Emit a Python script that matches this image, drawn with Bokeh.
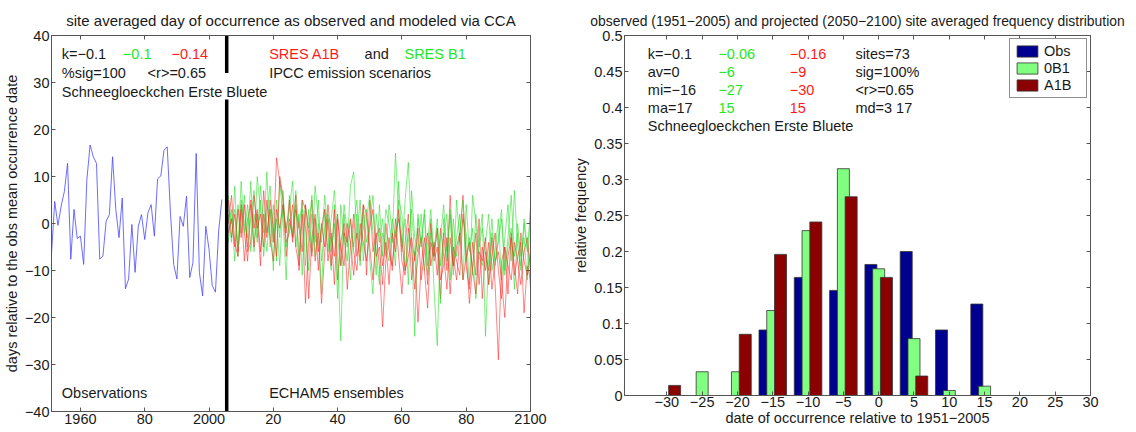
from bokeh.plotting import figure
from bokeh.layouts import row
from bokeh.models import Range1d, FixedTicker, LinearAxis, Label, ColumnDataSource
from bokeh.transform import dodge
from bokeh.embed import file_html
from bokeh.resources import INLINE

# ---------------- data: left panel ----------------
obs_start = 1951
obs_vals = [-6.5, 4.7, -0.4, 3.7, 6.8, 12.8, -7.6, 3.0, -3.2, -2.7,
            -8.7, 9.3, 16.7, 14.2, 12.8, -7.6, -6.9, 0.5, 1.9, 14.2,
            3.0, -3.0, 5.4, -13.9, -11.8, -0.2, -10.4, -0.6, 1.9, -3.4,
            2.3, 4.0, -2.7, 9.5, 10.1, 15.6, 16.3, 2.3, -8.7, -11.8,
            1.5, -0.6, 5.8, -11.5, -8.3, 14.9, -10.4, -15.4, -0.6, -5.5,
            -13.2, -14.6, -1.6, 5.1]

model_start = 2006
a1b_run1 = [5, -3, 2, -6, 3, -8, 1, 4, -5, 2,
            -9, 7, -2, 3, -4, 14, 9, 5, -7, 1,
            -3, 6, -10, 2, -17, -4, 5, -8, -2, -17,
            -6, 1, -9, 3, -12, -4, 0, -14, -5, 2,
            -7, -3, 4, -11, 5, -6, -2, -9, -22, -8,
            -3, -10, 1, -7, -15, -4, 2, -12, -6, -21,
            -9, -3, -13, 0, -8, -5, -16, -2, -10, 6,
            -7, -12, -3, 6, -9, -14, -4, -11, 1, -16,
            -6, -10, -3, -13, -29, -8, -5, -15, -2, -11,
            -7, -4, -19, -9, -12]
a1b_run2 = [0, 6, -4, -7, 4, -2, -8, 5, -1, 3,
            -6, 2, -3, 5, -1, -7, 10, 6, -4, -2,
            4, -5, -9, 5, 3, -16, -3, 2, -6, -1,
            3, -8, -2, -13, 1, -5, -9, 0, -4, -11,
            -2, -8, 4, 2, -5, -12, -3, -1, -9, -4,
            -13, -2, -6, 3, -8, -11, -1, -5, -14, -7,
            -3, -10, -18, -4, -7, -1, -12, -9, -3, -15,
            -5, -8, -11, 2, -6, -17, -9, -2, -13, -5,
            -10, -4, -14, -8, -6, -12, -20, -7, -3, -9,
            -15, -2, -8, -11, -6]
a1b_run3 = [-2, 1, -5, 3, -3, 4, -6, -4, 6, -1,
            2, -5, 5, -3, -8, 3, -1, 4, -2, 5,
            -4, 3, -1, -6, 4, -2, -7, 1, -10, 0,
            -5, 4, -3, -7, 2, -9, -2, -4, 1, -6,
            -10, 0, -4, -8, -1, 3, -7, -5, -13, 0,
            -6, -9, -2, 1, -4, -10, -7, -3, -8, -1,
            -12, -6, -2, -9, -4, -11, -1, -7, -14, -3,
            -9, -5, -2, -12, -7, -4, -10, -15, -6, -8,
            -3, -13, -7, -2, -10, -16, -5, -9, -12, -4,
            -8, -13, -6, -3, -10]
b1_run1 = [2, -4, 8, -7, 5, 0, -3, 9, -6, 10,
           3, -2, 11, -5, 4, -8, 9, 1, -12, 6,
           -3, 7, -1, 5, -9, 3, -6, 8, 1, -4,
           6, -2, -10, 4, -7, -25, 2, -5, 8, 11,
           -3, 5, -8, 1, 6, -2, -11, 4, -7, 3,
           0, -4, 15, 2, -6, 5, 13, -3, -24, 2,
           -5, 3, -9, 1, -14, -26, -3, 4, -8, 2,
           -11, 5, -4, 1, -2, -13, 6, 0, -7, -9,
           -4, 2, -10, -6, 1, -12, -3, 4, -8, 7,
           -5, -10, 0, -6, 3]
b1_run2 = [-4, 3, -8, 4, -2, 6, -5, 1, 7, -3,
           5, -7, 2, 8, -4, 1, -9, 4, -1, 3,
           9, -5, 2, -11, 4, -1, 6, -7, 0, -15,
           3, -6, 1, 7, -3, -9, 4, -2, -12, 0,
           5, -6, -1, 3, -8, -15, 2, -4, 1, -7,
           4, -2, -9, 9, -5, 1, -13, 7, -3, -6,
           2, -10, -4, 3, -7, -1, -17, 1, -6, 3,
           -9, -3, 2, -12, 4, -6, -1, -16, -4, 2,
           -24, -7, 1, -9, -3, 3, -11, -5, -1, -14,
           0, -7, -3, -12, 4]
b1_run3 = [6, 0, 3, -5, 9, -2, 4, -6, 2, -4,
           8, 0, -6, 3, -10, 5, -3, 7, -5, 0,
           -2, 4, -7, 3, -1, -10, 2, -4, 5, -8,
           -1, 2, -6, 0, -16, 4, -3, -8, 1, -5,
           2, -9, 3, -4, 0, 6, -6, -13, -2, -5,
           -8, 1, -3, 5, 2, -10, -4, 3, -7, 1,
           -4, 2, -11, -2, -6, 1, -9, -3, 2, -12,
           1, -7, -2, 5, -8, -3, -11, 2, -5, -1,
           -6, -13, -2, -8, -4, 1, -10, -3, 6, -7,
           -2, -9, 1, -5, -14]

left_xticks = [1960, 1980, 2000, 2020, 2040, 2060, 2080, 2100]
left_xlabels = ["1960", "80", "2000", "20", "40", "60", "80", "2100"]
left_yticks = [-40, -30, -20, -10, 0, 10, 20, 30, 40]

# ---------------- data: right panel ----------------
bins = [-30, -25, -20, -15, -10, -5, 0, 5, 10, 15, 20, 25, 30]
obs_freq = [0, 0, 0, 0.091, 0.164, 0.146, 0.182, 0.200, 0.091, 0.127, 0, 0, 0]
b1_freq = [0, 0.033, 0.033, 0.118, 0.229, 0.315, 0.176, 0.079, 0.007, 0.013, 0, 0, 0]
a1b_freq = [0.014, 0, 0.085, 0.196, 0.241, 0.276, 0.164, 0.027, 0, 0, 0, 0, 0]
right_yticks = [0, 0.05, 0.1, 0.15, 0.2, 0.25, 0.3, 0.35, 0.4, 0.45, 0.5]

MINUS = "\u2212"
FONT = "Liberation Sans"
FS = "14.5px"
AX = "#555555"
TXT = "#1a1a1a"
GREEN_T = "#22e822"
RED_T = "#ff1a1a"


def fmt(v):
    s = f"{v:g}"
    return s.replace("-", MINUS)


def style_axis(ax, labels=True):
    ax.major_tick_in = 4
    ax.major_tick_out = 0
    ax.minor_tick_line_color = None
    ax.axis_line_color = AX
    ax.major_tick_line_color = AX
    ax.major_label_text_font = FONT
    if labels:
        ax.major_label_text_font_size = FS
        ax.major_label_text_color = TXT
        ax.major_label_standoff = 2
    else:
        ax.major_label_text_font_size = "1px"
        ax.major_label_text_color = None
        ax.major_label_standoff = 0
    ax.axis_label_text_font = FONT
    ax.axis_label_text_font_size = FS
    ax.axis_label_text_font_style = "normal"
    ax.axis_label_text_color = TXT
    ax.axis_label_standoff = 2


def style_fig(p, title, size):
    p.title.text = title
    p.title.align = "center"
    p.title.text_font = FONT
    p.title.text_font_size = size
    p.title.text_font_style = "normal"
    p.title.text_color = TXT
    p.title.standoff = 14
    p.xgrid.grid_line_color = None
    p.ygrid.grid_line_color = None
    p.outline_line_color = AX
    p.background_fill_color = "white"
    p.border_fill_color = "white"


def add_label(p, x, y, text, color=TXT):
    p.add_layout(Label(x=x, y=y, text=text, text_color=color, text_font=FONT,
                       text_font_size=FS, text_baseline="middle", text_align="left"))


# ---------------- left figure ----------------
p1 = figure(frame_width=479, frame_height=376, output_backend="svg", toolbar_location=None,
            x_range=Range1d(1951, 2100), y_range=Range1d(-40, 40),
            min_border_left=45, min_border_right=40, min_border_top=35, min_border_bottom=10)
style_fig(p1, "site averaged day of occurrence as observed and modeled via CCA", "15px")

xt1 = FixedTicker(ticks=left_xticks)
yt1 = FixedTicker(ticks=left_yticks)
p1.xaxis.ticker = xt1
p1.yaxis.ticker = yt1
p1.xaxis.major_label_overrides = {t: l for t, l in zip(left_xticks, left_xlabels)}
p1.yaxis.major_label_overrides = {t: fmt(t) for t in left_yticks}
p1.yaxis.axis_label = "days relative to the obs mean occurrence date"
for ax in p1.xaxis + p1.yaxis:
    style_axis(ax)
ax_r = LinearAxis(ticker=yt1)
style_axis(ax_r, labels=False)
p1.add_layout(ax_r, "right")
ax_t = LinearAxis(ticker=xt1)
style_axis(ax_t, labels=False)
p1.add_layout(ax_t, "above")

obs_years = list(range(obs_start, obs_start + len(obs_vals)))
p1.line(obs_years, obs_vals, line_color="#4848ff", line_width=1, line_alpha=0.8)

runs = [(b1_run1, "#20dd20"), (a1b_run1, "#ff2020"),
        (b1_run2, "#20dd20"), (a1b_run2, "#ff2020"),
        (b1_run3, "#20dd20"), (a1b_run3, "#ff2020")]
for vals, col in runs:
    yrs = list(range(model_start, model_start + len(vals)))
    p1.line(yrs, vals, line_color=col, line_width=1, line_alpha=0.55)

split = (obs_years[-1] + model_start) / 2 + 0.5
gap_lo, gap_hi = 26.4, 32.0
p1.segment(x0=[split, split], y0=[40, gap_lo], x1=[split, split], y1=[gap_hi, -40],
           line_color="black", line_width=3.5)

add_label(p1, 1954.2, 36, "k=" + MINUS + "0.1")
add_label(p1, 1973.2, 36, MINUS + "0.1", GREEN_T)
add_label(p1, 1988.3, 36, MINUS + "0.14", RED_T)
add_label(p1, 1954.2, 32, "%sig=100")
add_label(p1, 1980.9, 32, "<r>=0.65")
add_label(p1, 1954.2, 28, "Schneegloeckchen Erste Bluete")
add_label(p1, 2018.7, 36, "SRES A1B", RED_T)
add_label(p1, 2048.4, 36, "and")
add_label(p1, 2060.8, 36, "SRES B1", GREEN_T)
add_label(p1, 2018.7, 32, "IPCC emission scenarios")
add_label(p1, 1954.2, -36, "Observations")
add_label(p1, 2018.7, -36, "ECHAM5 ensembles")

# ---------------- right figure ----------------
p2 = figure(frame_width=466, frame_height=360, output_backend="svg", toolbar_location=None,
            x_range=Range1d(-36, 30), y_range=Range1d(0, 0.5),
            min_border_left=52, min_border_right=38, min_border_top=35, min_border_bottom=10)
style_fig(p2, "observed (1951" + MINUS + "2005) and projected (2050" + MINUS
          + "2100) site averaged frequency distribution", "13.9px")

xt2 = FixedTicker(ticks=bins)
yt2 = FixedTicker(ticks=right_yticks)
p2.xaxis.ticker = xt2
p2.yaxis.ticker = yt2
p2.xaxis.major_label_overrides = {t: fmt(t) for t in bins}
p2.yaxis.major_label_overrides = {t: fmt(t) for t in right_yticks}
p2.xaxis.axis_label = "date of occurrence relative to 1951" + MINUS + "2005"
p2.yaxis.axis_label = "relative frequency"
for ax in p2.xaxis + p2.yaxis:
    style_axis(ax)
p2.xaxis.axis_label_standoff = 0
p2.xaxis.major_label_standoff = 1
ax_r2 = LinearAxis(ticker=yt2)
style_axis(ax_r2, labels=False)
p2.add_layout(ax_r2, "right")
ax_t2 = LinearAxis(ticker=xt2)
style_axis(ax_t2, labels=False)
p2.add_layout(ax_t2, "above")

src = ColumnDataSource(dict(bins=bins, obs=obs_freq, b1=b1_freq, a1b=a1b_freq))
bw = 1.7
p2.vbar(x=dodge("bins", -1.1, range=p2.x_range), top="obs", width=bw, source=src,
        fill_color="#000090", line_color="#333333", line_width=0.8, legend_label="Obs")
p2.vbar(x=dodge("bins", 0.0, range=p2.x_range), top="b1", width=bw, source=src,
        fill_color="#80ff80", line_color="#333333", line_width=0.8, legend_label="0B1")
p2.vbar(x=dodge("bins", 1.1, range=p2.x_range), top="a1b", width=bw, source=src,
        fill_color="#8b0000", line_color="#333333", line_width=0.8, legend_label="A1B")

lg = p2.legend[0]
lg.location = "top_right"
lg.border_line_color = "#222222"
lg.border_line_width = 1
lg.label_text_font = FONT
lg.label_text_font_size = FS
lg.label_text_color = TXT
lg.glyph_width = 26
lg.glyph_height = 14
lg.label_height = 14
lg.label_width = 38
lg.label_standoff = 4
lg.spacing = 1
lg.padding = 4
lg.margin = 3
lg.background_fill_alpha = 1.0

cols = [-32.7, -22.7, -12.6, -3.3]
rows_y = [0.475, 0.45, 0.425, 0.40, 0.375]
table = [
    ["k=" + MINUS + "0.1", MINUS + "0.06", MINUS + "0.16", "sites=73"],
    ["av=0", MINUS + "6", MINUS + "9", "sig=100%"],
    ["mi=" + MINUS + "16", MINUS + "27", MINUS + "30", "<r>=0.65"],
    ["ma=17", "15", "15", "md=3 17"],
]
colors = [TXT, GREEN_T, RED_T, TXT]
for r, line in enumerate(table):
    for c, txt in enumerate(line):
        add_label(p2, cols[c], rows_y[r], txt, colors[c])
add_label(p2, cols[0], rows_y[4], "Schneegloeckchen Erste Bluete")

layout = row(p1, p2)
open("out.html", "w").write(file_html(layout, INLINE))
